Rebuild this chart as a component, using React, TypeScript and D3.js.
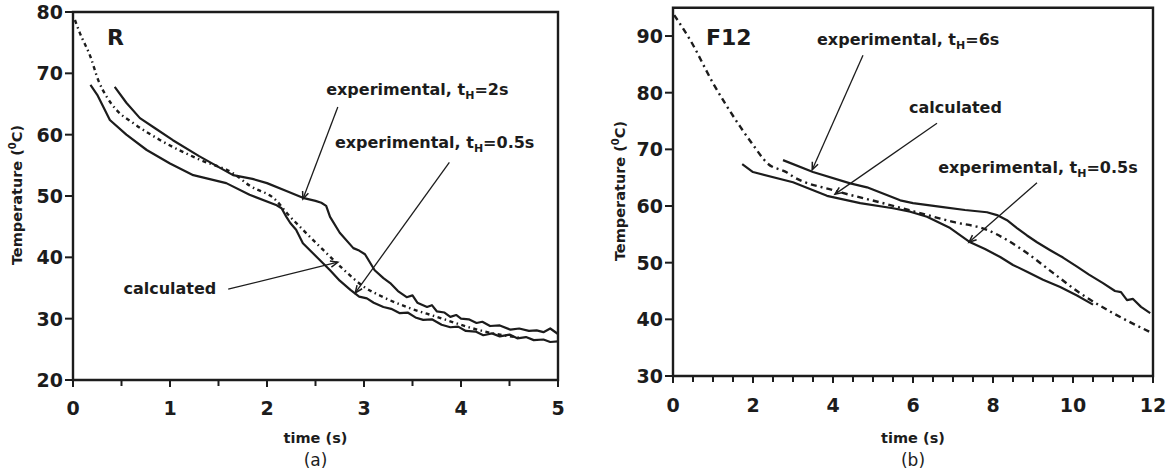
import React from "react";
import * as d3 from "d3";

type P = [number, number];

// ---------- Panel (a) : R ----------
const calcA: P[] = [
  [0.02, 78.7], [0.07, 76.6], [0.18, 72.7], [0.26, 68.9], [0.35, 66.1], [0.45, 64.0],
  [0.62, 61.9], [0.9, 59.1], [1.31, 55.9], [1.65, 53.7], [1.82, 51.7], [2.1, 49.2],
  [2.2, 47.3], [2.37, 44.5], [2.58, 41.2], [2.79, 38.0], [2.99, 35.3], [3.2, 33.5],
  [3.44, 31.9], [3.75, 30.3], [4.06, 28.7], [4.3, 27.7], [4.6, 26.9],
];
const expA2s: P[] = [
  [0.43, 67.8], [0.55, 65.2], [0.69, 62.7], [0.85, 61.0], [1.03, 59.1], [1.3, 56.5],
  [1.65, 53.4], [1.85, 52.8], [2.0, 52.1], [2.2, 50.8], [2.37, 49.7], [2.5, 49.2],
  [2.56, 48.9], [2.61, 48.4], [2.65, 46.6], [2.75, 44.0], [2.89, 41.5], [2.95, 41.1],
  [3.01, 40.5], [3.11, 37.9], [3.2, 36.6], [3.27, 35.8], [3.35, 34.5], [3.44, 33.5],
  [3.5, 33.8], [3.55, 32.6], [3.65, 31.9], [3.7, 32.2], [3.75, 31.2], [3.83, 31.0],
  [3.89, 30.3], [3.95, 30.6], [4.0, 30.0], [4.08, 29.9], [4.16, 29.3], [4.22, 29.5],
  [4.3, 28.8], [4.4, 28.9], [4.51, 28.2], [4.6, 28.4], [4.7, 28.0], [4.78, 28.1],
  [4.85, 27.8], [4.92, 28.4], [5.0, 27.5],
];
const expA05s: P[] = [
  [0.18, 68.1], [0.25, 66.5], [0.38, 62.4], [0.55, 60.0], [0.76, 57.5], [1.0, 55.3],
  [1.24, 53.4], [1.58, 52.1], [1.82, 50.2], [2.1, 48.5], [2.15, 48.0], [2.2, 46.6],
  [2.24, 45.6], [2.3, 44.5], [2.37, 42.3], [2.51, 40.1], [2.65, 37.9], [2.75, 36.2],
  [2.86, 34.7], [2.95, 33.6], [3.03, 33.3], [3.1, 32.6], [3.2, 31.9], [3.28, 31.6],
  [3.37, 30.9], [3.45, 31.0], [3.53, 30.2], [3.61, 29.8], [3.7, 29.9], [3.8, 29.0],
  [3.89, 28.6], [3.97, 28.7], [4.05, 28.0], [4.15, 27.9], [4.23, 27.3], [4.32, 27.6],
  [4.4, 27.1], [4.5, 27.4], [4.58, 26.8], [4.67, 27.0], [4.75, 26.5], [4.85, 26.6],
  [4.92, 26.2], [5.0, 26.3],
];
const xTicksA = [0, 1, 2, 3, 4, 5];
const xMinorA = [0.5, 1.5, 2.5, 3.5, 4.5];
const yTicksA = [20, 30, 40, 50, 60, 70, 80];

// ---------- Panel (b) : F12 ----------
const calcB: P[] = [
  [0.03, 93.7], [0.43, 89.3], [1.0, 81.7], [1.68, 74.0], [2.0, 70.8], [2.35, 67.6],
  [2.85, 65.9], [3.0, 65.2], [4.0, 62.8], [5.2, 60.6], [6.1, 58.9], [7.0, 57.2],
  [7.85, 55.8], [8.35, 54.0], [8.85, 51.7], [9.5, 48.2], [10.18, 44.6], [11.0, 41.1],
  [12.0, 37.5],
];
const expB6s: P[] = [
  [2.75, 68.1], [3.5, 66.0], [4.43, 64.0], [4.85, 63.3], [5.68, 61.0], [6.0, 60.5],
  [6.75, 59.8], [7.3, 59.3], [7.85, 58.9], [8.1, 58.4], [8.35, 57.5], [8.6, 56.1],
  [8.85, 54.8], [9.1, 53.6], [9.43, 52.2], [9.75, 50.9], [10.1, 49.3], [10.4, 47.9],
  [10.75, 46.4], [11.05, 45.0], [11.2, 44.8], [11.35, 43.4], [11.5, 43.6],
  [11.7, 42.2], [11.93, 41.1],
];
const expB05s: P[] = [
  [1.73, 67.4], [2.0, 66.0], [3.0, 64.2], [3.85, 61.8], [4.68, 60.5], [5.5, 59.6],
  [5.93, 59.0], [6.35, 58.1], [6.93, 56.1], [7.43, 53.6], [7.8, 52.4], [8.18, 51.0],
  [8.5, 49.6], [8.85, 48.4], [9.25, 47.0], [9.68, 45.7], [10.1, 44.2], [10.5, 42.6],
];
const xTicksB = [0, 2, 4, 6, 8, 10, 12];
const xMinorB = [0.5, 1, 1.5, 2.5, 3, 3.5, 4.5, 5, 5.5, 6.5, 7, 7.5, 8.5, 9, 9.5, 10.5, 11, 11.5];
const yTicksB = [30, 40, 50, 60, 70, 80, 90];

// annotations: [label, subscriptValue, textX, textY, lineFromX, lineFromY, arrowToX, arrowToY]
type Ann = { main: string; sub?: string; tail?: string; tx: number; ty: number; fx: number; fy: number; ax: number; ay: number };
const annA: Ann[] = [
  { main: "experimental, t", sub: "H", tail: "=2s", tx: 2.61, ty: 66.5, fx: 2.73, fy: 64.5, ax: 2.37, ay: 49.5 },
  { main: "experimental, t", sub: "H", tail: "=0.5s", tx: 2.7, ty: 57.8, fx: 3.88, fy: 55.5, ax: 2.91, ay: 34.2 },
  { main: "calculated", tx: 0.52, ty: 34.0, fx: 1.6, fy: 34.8, ax: 2.73, ay: 39.2 },
];
const annB: Ann[] = [
  { main: "experimental, t", sub: "H", tail: "=6s", tx: 3.6, ty: 88.4, fx: 4.75, fy: 86.6, ax: 3.48, ay: 66.4 },
  { main: "calculated", tx: 5.9, ty: 76.4, fx: 6.6, fy: 74.6, ax: 4.05, ay: 62.1 },
  { main: "experimental, t", sub: "H", tail: "=0.5s", tx: 6.63, ty: 65.8, fx: 9.1, fy: 64.1, ax: 7.4, ay: 53.6 },
];

const FONT = "'DejaVu Sans', sans-serif";
const INK = "#1c1c1c";

function arrowHead(x1: number, y1: number, x2: number, y2: number, size = 8) {
  const a = Math.atan2(y2 - y1, x2 - x1);
  const s = 0.4;
  const p1 = [x2 - size * Math.cos(a - s), y2 - size * Math.sin(a - s)];
  const p2 = [x2 - size * Math.cos(a + s), y2 - size * Math.sin(a + s)];
  return `M${p1[0]},${p1[1]}L${x2},${y2}L${p2[0]},${p2[1]}`;
}

type PanelProps = {
  x: d3.ScaleLinear<number, number>;
  y: d3.ScaleLinear<number, number>;
  xTicks: number[];
  xMinor: number[];
  yTicks: number[];
  calc: P[];
  exps: P[][];
  anns: Ann[];
  name: string;
  nameX: number;
  tag: string;
  calcDash: string;
  xLabelY: number;
  yTitleX: number;
  yTitleY: number;
};

function Panel(p: PanelProps) {
  const { x, y } = p;
  const [x0, x1] = x.range();
  const [yb, yt] = y.range();
  const cx = (x0 + x1) / 2;
  const lineSolid = d3.line<P>().x((d) => x(d[0])).y((d) => y(d[1]));
  const lineSmooth = d3.line<P>().x((d) => x(d[0])).y((d) => y(d[1])).curve(d3.curveMonotoneX);
  return (
    <g fontFamily={FONT} fill={INK}>
      {/* curves */}
      {p.exps.map((e, i) => (
        <path key={i} d={lineSolid(e) || ""} fill="none" stroke={INK} strokeWidth={2.2} strokeLinejoin="round" />
      ))}
      <path d={lineSmooth(p.calc) || ""} fill="none" stroke={INK} strokeWidth={2.4} strokeDasharray={p.calcDash} />
      {/* frame */}
      <path d={`M${x0},${yb}V${yt}H${x1}V${yb}Z`} fill="none" stroke={INK} strokeWidth={2.4} />
      {/* y ticks */}
      {p.yTicks.map((t) => (
        <g key={"y" + t}>
          <line x1={x0 - 8} x2={x0} y1={y(t)} y2={y(t)} stroke={INK} strokeWidth={2} />
          <text x={x0 - 10} y={y(t)} dy="0.36em" textAnchor="end" fontSize={19} fontWeight="bold">{t}</text>
        </g>
      ))}
      {/* x ticks */}
      {p.xTicks.map((t) => (
        <g key={"x" + t}>
          <line x1={x(t)} x2={x(t)} y1={yb} y2={yb + 7} stroke={INK} strokeWidth={2} />
          <text x={x(t)} y={p.xLabelY} dy="0.36em" textAnchor="middle" fontSize={19} fontWeight="bold">{t}</text>
        </g>
      ))}
      {p.xMinor.map((t) => (
        <line key={"m" + t} x1={x(t)} x2={x(t)} y1={yb} y2={yb + 6} stroke={INK} strokeWidth={2} />
      ))}
      {/* axis titles */}
      <text x={cx} y={438} dy="0.36em" textAnchor="middle" fontSize={14.5} fontWeight="bold">time (s)</text>
      <text x={cx} y={460} dy="0.36em" textAnchor="middle" fontSize={17}>{p.tag}</text>
      <text
        transform={`translate(${p.yTitleX},${p.yTitleY}) rotate(-90)`}
        textAnchor="middle"
        fontSize={14.5}
        fontWeight="bold"
        dy="0.36em"
      >
        Temperature (<tspan fontSize={10} dy="-6">0</tspan><tspan dy="6">C)</tspan>
      </text>
      {/* panel name */}
      <text x={p.nameX} y={y.invert(0) && 45} fontSize={22} fontWeight="bold">{p.name}</text>
      {/* annotations */}
      {p.anns.map((a, i) => {
        const fx = x(a.fx), fy = y(a.fy), ax = x(a.ax), ay = y(a.ay);
        return (
          <g key={"a" + i}>
            <line x1={fx} y1={fy} x2={ax} y2={ay} stroke={INK} strokeWidth={1.3} />
            <path d={arrowHead(fx, fy, ax, ay)} fill="none" stroke={INK} strokeWidth={1.5} />
            <text x={x(a.tx)} y={y(a.ty)} fontSize={16} fontWeight="bold">
              {a.main}
              {a.sub && <tspan fontSize={11} dy="4">{a.sub}</tspan>}
              {a.tail && <tspan dy="-4">{a.tail}</tspan>}
            </text>
          </g>
        );
      })}
    </g>
  );
}

export default function App() {
  const xA = d3.scaleLinear().domain([0, 5]).range([73, 558]);
  const yA = d3.scaleLinear().domain([20, 80]).range([380, 12]);
  const xB = d3.scaleLinear().domain([0, 12]).range([673, 1153]);
  const yB = d3.scaleLinear().domain([30, 95]).range([376, 7.7]);
  return (
    <svg
      width={1167}
      height={473}
      viewBox="0 0 1167 473"
      style={{ position: "absolute", left: 0, top: 0, background: "#fff" }}
    >
      <rect width={1167} height={473} fill="#fff" />
      <Panel
        x={xA} y={yA} xTicks={xTicksA} xMinor={xMinorA} yTicks={yTicksA}
        calc={calcA} exps={[expA2s, expA05s]} anns={annA}
        name="R" nameX={107} tag="(a)" calcDash="4,3.5,1.5,3.5"
        xLabelY={408} yTitleX={17} yTitleY={195}
      />
      <Panel
        x={xB} y={yB} xTicks={xTicksB} xMinor={xMinorB} yTicks={yTicksB}
        calc={calcB} exps={[expB6s, expB05s]} anns={annB}
        name="F12" nameX={706} tag="(b)" calcDash="6,4,2,4"
        xLabelY={405} yTitleX={620} yTitleY={191}
      />
    </svg>
  );
}
